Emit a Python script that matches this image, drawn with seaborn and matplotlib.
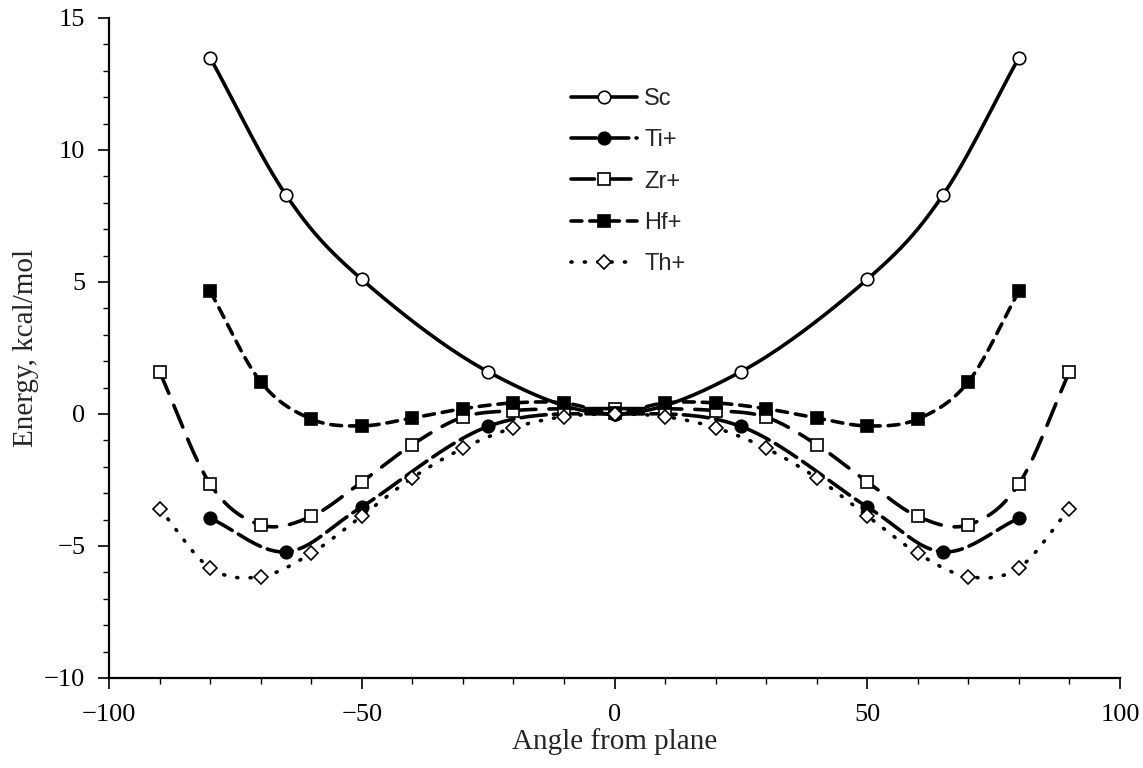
import numpy as np
import matplotlib
matplotlib.use("Agg")
import matplotlib.pyplot as plt
from matplotlib.lines import Line2D
from matplotlib.ticker import MultipleLocator
import seaborn as sns

# angles (deg) and energies (kcal/mol)
sc_x = [-80, -65, -50, -25, 0, 25, 50, 65, 80]
sc_y = [13.5, 8.3, 5.1, 1.6, 0.0, 1.6, 5.1, 8.3, 13.5]

ti_x = [-80, -65, -50, -25, 0, 25, 50, 65, 80]
ti_y = [-3.95, -5.22, -3.52, -0.47, 0.0, -0.47, -3.52, -5.22, -3.95]

zr_x = [-90, -80, -70, -60, -50, -40, -30, -20, -10, 0, 10, 20, 30, 40, 50, 60, 70, 80, 90]
zr_y = [1.6, -2.65, -4.2, -3.88, -2.57, -1.16, -0.12, 0.13, 0.2, 0.2, 0.2, 0.13, -0.12, -1.16,
        -2.57, -3.88, -4.2, -2.65, 1.6]

hf_x = [-80, -70, -60, -50, -40, -30, -20, -10, 0, 10, 20, 30, 40, 50, 60, 70, 80]
hf_y = [4.65, 1.22, -0.19, -0.45, -0.15, 0.2, 0.42, 0.42, 0.05, 0.42, 0.42, 0.2, -0.15, -0.45,
        -0.19, 1.22, 4.65]

th_x = [-90, -80, -70, -60, -50, -40, -30, -20, -10, 0, 10, 20, 30, 40, 50, 60, 70, 80, 90]
th_y = [-3.58, -5.83, -6.16, -5.28, -3.86, -2.42, -1.3, -0.52, -0.1, 0.0, -0.1, -0.52, -1.3,
        -2.42, -3.86, -5.28, -6.16, -5.83, -3.58]


def smooth(x, y, n=24):
    # catmull-rom path through the points, like a spreadsheet "smoothed line"
    x = np.asarray(x, float)
    y = np.asarray(y, float)
    px = np.concatenate([[2 * x[0] - x[1]], x, [2 * x[-1] - x[-2]]])
    py = np.concatenate([[2 * y[0] - y[1]], y, [2 * y[-1] - y[-2]]])
    t = np.linspace(0, 1, n, endpoint=False)
    ox, oy = [], []
    for i in range(1, len(px) - 2):
        for p, out in ((px, ox), (py, oy)):
            p0, p1, p2, p3 = p[i - 1], p[i], p[i + 1], p[i + 2]
            out.extend(0.5 * (2 * p1 + (-p0 + p2) * t
                              + (2 * p0 - 5 * p1 + 4 * p2 - p3) * t ** 2
                              + (-p0 + 3 * p1 - 3 * p2 + p3) * t ** 3))
    ox.append(x[-1])
    oy.append(y[-1])
    return np.array(ox), np.array(oy)


sns.set_style("ticks")
plt.rcParams["font.family"] = ["Liberation Serif", "DejaVu Serif"]

fig = plt.figure(figsize=(11.43, 7.68), dpi=100)
ax = fig.add_axes([109 / 1143, 90 / 768, 1011 / 1143, 660 / 768])

series = [
    ("Sc", sc_x, sc_y, "o", "white", "-"),
    ("Ti+", ti_x, ti_y, "o", "black", (0, (7.0, 2.0))),
    ("Zr+", zr_x, zr_y, "s", "white", (0, (6.5, 3.6))),
    ("Hf+", hf_x, hf_y, "s", "black", (0, (3.0, 2.2))),
    ("Th+", th_x, th_y, "D", "white", (0, (0.3, 3.4))),
]
lw = 2.6
handles = []
for name, xs, ys, mk, fc, ls in series:
    cx, cy = smooth(xs, ys)
    sns.lineplot(x=cx, y=cy, ax=ax, color="black", lw=lw, linestyle=ls,
                 sort=False, estimator=None, dash_capstyle="round")
    ms = 7.5 if mk == "D" else 9
    ax.plot(xs, ys, linestyle="none", marker=mk, ms=ms, mfc=fc, mec="black",
            mew=1.2, zorder=3)
    handles.append(Line2D([], [], color="black", lw=lw, linestyle=ls, marker=mk,
                          ms=ms, mfc=fc, mec="black", mew=1.2,
                          dash_capstyle="round", label=name))

ax.set_xlim(-100, 100)
ax.set_ylim(-10, 15)
ax.xaxis.set_major_locator(MultipleLocator(50))
ax.xaxis.set_minor_locator(MultipleLocator(10))
ax.yaxis.set_major_locator(MultipleLocator(5))
ax.yaxis.set_minor_locator(MultipleLocator(1))
ax.tick_params(which="major", direction="out", length=8, width=1.2,
               labelsize=19, colors="black")
ax.tick_params(axis="x", which="major", pad=11)
ax.tick_params(axis="y", which="major", pad=9)
ax.tick_params(which="minor", direction="out", length=4, width=1.0, colors="black")
sns.despine(ax=ax)
for s in ("left", "bottom"):
    ax.spines[s].set_linewidth(1.6)
    ax.spines[s].set_color("black")

ax.set_xlabel("Angle from plane", fontsize=21, labelpad=1)
ax.set_ylabel("Energy, kcal/mol", fontsize=21, labelpad=4)

leg = ax.legend(handles=handles, loc="upper left", frameon=False,
                bbox_to_anchor=(571 / 1143, (768 - 88) / 768),
                bbox_transform=fig.transFigure, borderpad=0, borderaxespad=0,
                handlelength=2.8, handletextpad=0.3, labelspacing=0.82,
                prop={"family": "Liberation Sans", "size": 17})

fig.savefig("out.png", dpi=100)
